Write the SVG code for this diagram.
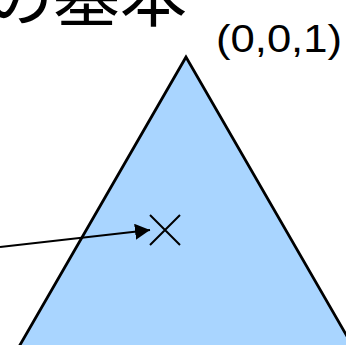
<svg xmlns="http://www.w3.org/2000/svg" width="346" height="345" viewBox="0 0 346 345">
  <style>
    .lbl { font-family: "Liberation Sans", "Noto Sans CJK JP", sans-serif; fill: #000; }
    .jp { font-family: "Noto Sans CJK JP", sans-serif; fill: #000; }
    .edge { stroke: #000; stroke-width: 2.2; fill: none; }
  </style>
  <defs>
    <marker id="ah" markerUnits="userSpaceOnUse" markerWidth="16" markerHeight="16" refX="15" refY="8" orient="auto">
      <path d="M0,0 L15,8 L0,16 Z" fill="#000"/>
    </marker>
  </defs>
  <g id="title">
    <text class="jp" x="-14" y="21" font-size="67">の基本</text>
  </g>
  <g id="triangle">
    <path d="M186,57 L-10,397 L382,397 Z" fill="#A9D5FF" stroke="#000" stroke-width="2.8" stroke-linejoin="miter"/>
  </g>
  <g id="vertex-label">
    <text class="lbl" x="216" y="52" font-size="39" textLength="126" lengthAdjust="spacingAndGlyphs">(0,0,1)</text>
  </g>
  <g id="point">
    <path d="M150,215 L180,245 M180,215 L150,245" stroke="#000" stroke-width="2"/>
  </g>
  <g id="connectors">
    <path class="edge" d="M0,247 L150,230" marker-end="url(#ah)"/>
  </g>
</svg>
